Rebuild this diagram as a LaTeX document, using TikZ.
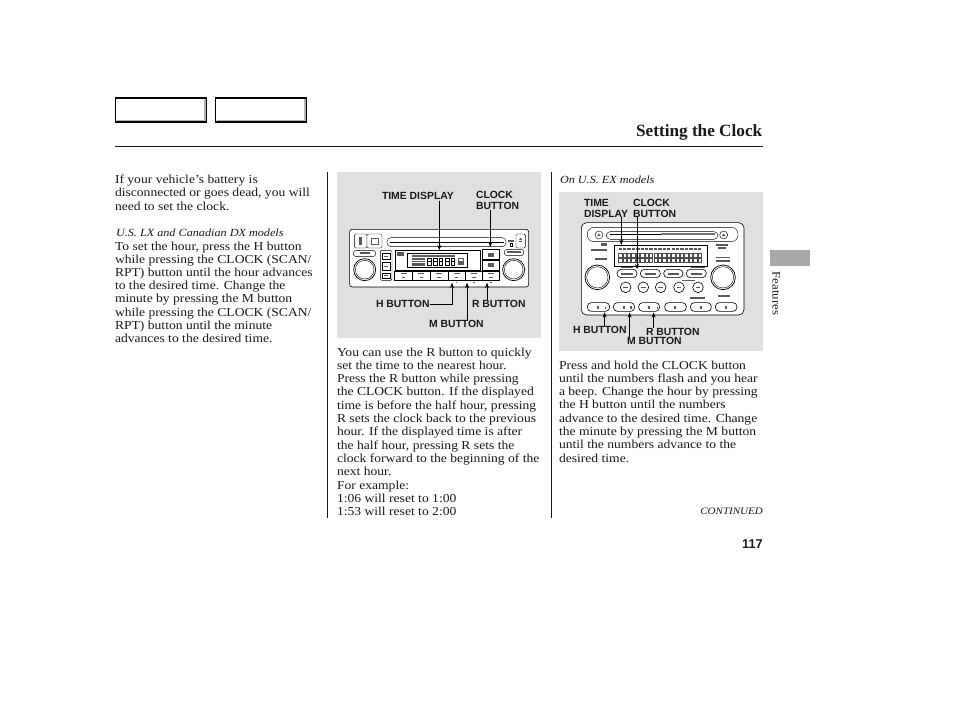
\documentclass[tikz,border=0pt]{standalone}
\usepackage{fontspec}
\usetikzlibrary{arrows.meta}
\newfontfamily\bodyf[FakeStretch=1.115]{Liberation Serif}
\newfontfamily\titlef{Liberation Serif}
\newfontfamily\labf{Liberation Sans}
\definecolor{panel}{HTML}{E0E0E0}
\definecolor{sidetab}{HTML}{A8A8A8}
\definecolor{ink}{HTML}{1A1A1A}
\tikzset{
  x=0.75pt,y=-0.75pt,
  txt/.style={anchor=base west,inner sep=0pt,outer sep=0pt,text=ink,font=\bodyf\fontsize{9.15pt}{11pt}\selectfont},
  itl/.style={txt,font=\bodyf\itshape\fontsize{8.2pt}{11pt}\selectfont},
  lab/.style={inner sep=0pt,outer sep=0pt,text=ink,align=left,font=\labf\bfseries\fontsize{7.8pt}{8.3pt}\selectfont},
  tabbox/.style={draw=black,line width=1.1pt,fill=white,minimum width=68pt,minimum height=18pt,anchor=north west,inner sep=0pt,outer sep=0pt},
  tabshade/.style={draw=black!30,line width=0.8pt},
  rule/.style={draw=ink,line width=0.6pt},
  ptr/.style={draw=black,line width=0.55pt,-{Stealth[length=4pt,width=3pt]}},
  dev/.style={draw=black,line width=0.45pt,fill=white},
  devthin/.style={draw=black,line width=0.3pt,fill=white},
  glyph/.style={fill=black!65,draw=none},
}
\newcommand{\tl}[4]{\node[txt] (#1) at (#2,#3) {#4};}
\begin{document}
\begin{tikzpicture}
\useasboundingbox (0,0) rectangle (954,710);
\fill[white] (0,0) rectangle (954,710);
% header
\node[tabbox] (taba) at (115.7,98) {};
\node[tabbox] (tabb) at (215.7,98) {};
\draw[tabshade] (116.5,120.6) -- (205,120.6) -- (205,99);
\draw[tabshade] (216.5,120.6) -- (305,120.6) -- (305,99);
\node[anchor=base east,inner sep=0pt,text=ink,font=\titlef\bfseries\fontsize{12.9pt}{15pt}\selectfont] (title) at (762.5,137) {Setting the Clock};
\draw[rule] (115,146.6) -- (763,146.6);
\draw[rule] (327.5,172) -- (327.5,518);
\draw[rule] (551.5,172) -- (551.5,518);
% side tab
\fill[sidetab] (770,250) rectangle (810,266);
\node[rotate=-90,anchor=base west,inner sep=0pt,text=ink,font=\bodyf\fontsize{8.6pt}{9pt}\selectfont] (side) at (772.5,271.5) {Features};
% left column
\tl{a1}{115}{183}{If your vehicle’s battery is}
\tl{a2}{115}{196.5}{disconnected or goes dead, you will}
\tl{a3}{115}{210}{need to set the clock.}
\node[itl] (a4) at (116,236) {U.S. LX and Canadian DX models};
\tl{b1}{115}{250}{To set the hour, press the H button}
\tl{b2}{115}{263}{while pressing the CLOCK (SCAN/}
\tl{b3}{115}{276.3}{RPT) button until the hour advances}
\tl{b4}{115}{289.6}{to the desired time. Change the}
\tl{b5}{115}{302.9}{minute by pressing the M button}
\tl{b6}{115}{316.2}{while pressing the CLOCK (SCAN/}
\tl{b7}{115}{329.5}{RPT) button until the minute}
\tl{b8}{115}{342.8}{advances to the desired time.}
% middle column
\tl{c1}{337}{356}{You can use the R button to quickly}
\tl{c2}{337}{369.3}{set the time to the nearest hour.}
\tl{c3}{337}{382.6}{Press the R button while pressing}
\tl{c4}{337}{395.9}{the CLOCK button. If the displayed}
\tl{c5}{337}{409.2}{time is before the half hour, pressing}
\tl{c6}{337}{422.5}{R sets the clock back to the previous}
\tl{c7}{337}{435.8}{hour. If the displayed time is after}
\tl{c8}{337}{449.1}{the half hour, pressing R sets the}
\tl{c9}{337}{462.4}{clock forward to the beginning of the}
\tl{c10}{337}{475.7}{next hour.}
\tl{c11}{337}{489}{For example:}
\tl{c12}{337}{502.3}{1:06 will reset to 1:00}
\tl{c13}{337}{515.6}{1:53 will reset to 2:00}
% right column
\node[itl] (d0) at (560,183) {On U.S. EX models};
\tl{d1}{559}{369}{Press and hold the CLOCK button}
\tl{d2}{559}{382.3}{until the numbers flash and you hear}
\tl{d3}{559}{395.6}{a beep. Change the hour by pressing}
\tl{d4}{559}{408.9}{the H button until the numbers}
\tl{d5}{559}{422.2}{advance to the desired time. Change}
\tl{d6}{559}{435.5}{the minute by pressing the M button}
\tl{d7}{559}{448.8}{until the numbers advance to the}
\tl{d8}{559}{462.1}{desired time.}
\node[anchor=base east,inner sep=0pt,text=ink,font=\bodyf\itshape\fontsize{7.4pt}{9pt}\selectfont] (cont) at (763,514.5) {CONTINUED};
\node[anchor=base east,inner sep=0pt,text=ink,font=\labf\bfseries\fontsize{9.6pt}{11pt}\selectfont] (page) at (763,548.5) {117};
% panels
\fill[panel] (337,172) rectangle (541,338);
\fill[panel] (559,192) rectangle (763,351);
% radio 1
\begin{scope}[shift={(337,172)},x=0.25pt,y=-0.25pt]
\draw[dev,rounded corners=2pt] (38,172) rectangle (575,345);
\draw[devthin,rounded corners=1pt] (52,186) rectangle (90,228);
\draw[devthin,rounded corners=1pt] (90,186) rectangle (135,228);
\fill[glyph] (66,195) rectangle (76,218);
\draw[glyph,fill=none,draw=black!65,line width=.4pt] (102,198) rectangle (124,216);
\draw[devthin,rounded corners=3pt] (150,197) rectangle (507,224);
\draw[draw=black,line width=.5pt] (158,212) -- (500,212);
\fill[glyph] (513,204) rectangle (530,210);
\draw[black,line width=.4pt] (520,215) rectangle (527,222);
\draw[devthin,rounded corners=1pt] (537,186) rectangle (565,228);
\fill[glyph] (546,204) -- (556,204) -- (551,197) -- cycle;
\fill[glyph] (546,207) rectangle (556,209);
\draw[devthin,rounded corners=1pt] (50,236) rectangle (115,253);
\fill[glyph] (68,241) rectangle (98,247);
\draw[dev,line width=.55pt] (83,293) circle (33);
\draw[devthin] (83,293) circle (28);
\draw[devthin,rounded corners=1pt] (130,235) rectangle (165,325);
\foreach \yy/\hh in {243/20,270/26,303/15}{
  \draw[devthin] (135,\yy) rectangle (160,\yy+\hh);
  \fill[glyph] (141,\yy+\hh/2-2.5) rectangle (154,\yy+\hh/2+2.5);}
\draw[devthin] (175,235) rectangle (430,295);
\fill[glyph] (181,240) rectangle (200,252);
\draw[devthin] (210,245) rectangle (390,287);
\fill[glyph] (225,250) rectangle (355,254);
\fill[glyph] (225,258) rectangle (265,282);
\fill[white] (225,263) rectangle (265,265);
\fill[white] (225,270) rectangle (265,272);
\foreach \xx in {272,290,306,325,342}{\draw[black,line width=.75pt] (\xx,258) rectangle (\xx+11,280);\draw[black,line width=.6pt] (\xx,269) -- (\xx+11,269);}
\fill[glyph] (362,258) rectangle (381,278);
\fill[white] (366,262) rectangle (377,266);
\draw[devthin] (437,233) rectangle (487,263);
\draw[devthin] (437,265) rectangle (487,295);
\fill[glyph] (453,242) rectangle (471,254);
\fill[glyph] (453,274) rectangle (471,286);
\draw[devthin,rounded corners=1pt] (503,233) rectangle (560,250);
\fill[glyph] (510,238) rectangle (553,244);
\draw[dev,line width=.55pt] (530,293) circle (33);
\draw[devthin] (530,293) circle (28);
\draw[dev] (172,298) rectangle (487,325);
\foreach \xx in {227,280,333,385,437}{\draw[black,line width=.4pt] (\xx,298) -- (\xx,325);}
\foreach \xx in {200,253,306,359,411,462}{\fill[glyph] (\xx-9,303) rectangle (\xx+9,307);\fill[glyph] (\xx-5,314) rectangle (\xx+5,318);}
\foreach \xx in {358,411,462}{\fill[glyph] (\xx-2,329) rectangle (\xx+2,333);}
\coordinate (t1a) at (307,235);
\coordinate (t1b) at (460,225);
\coordinate (t1c) at (345,332);
\coordinate (t1d) at (390,332);
\coordinate (t1e) at (450,332);
\end{scope}
\node[lab,anchor=west] (timea) at (382,195.5) {TIME DISPLAY};
\node[lab,anchor=north west] (clocka) at (476,191.5) {CLOCK\\BUTTON};
\node[lab,anchor=west] (ha) at (376,304) {H BUTTON};
\node[lab,anchor=west] (ra) at (472,304) {R BUTTON};
\node[lab,anchor=west] (ma) at (429,324) {M BUTTON};
\draw[ptr] (timea.south -| t1a) ++(0,1.5) -- (t1a);
\draw[ptr] (clocka.south -| t1b) -- (t1b);
\draw[ptr] (ha.east) -| (t1c);
\draw[ptr] (ma.north -| t1d) -- (t1d);
\draw[ptr] (ra.north -| t1e) -- (t1e);
% radio 2
\begin{scope}[shift={(558,190)},x=0.25pt,y=-0.25pt]
\draw[dev,rounded corners=4pt] (70,98) rectangle (558,375);
\draw[devthin,rounded corners=5pt] (88,112) rectangle (540,155);
\draw[devthin] (123,135) circle (12);
\fill[glyph] (118,138) -- (128,138) -- (123,130) -- cycle;
\draw[devthin] (497,135) circle (12);
\fill[glyph] (492,138) -- (502,138) -- (497,130) -- cycle;
\draw[devthin,rounded corners=3pt] (145,125) rectangle (480,148);
\fill[black!55] (310,130) rectangle (470,134);
\draw[black,line width=.3pt] (155,132) -- (310,132);
\fill[glyph] (130,160) rectangle (148,168);
\fill[glyph] (100,176) rectangle (148,183);
\fill[glyph] (112,205) rectangle (148,211);
\fill[glyph] (475,162) rectangle (510,168);
\fill[glyph] (480,172) rectangle (505,177);
\fill[glyph] (473,200) rectangle (515,205);
\fill[glyph] (473,211) rectangle (515,216);
\draw[devthin] (168,165) rectangle (447,230);
\foreach \xx in {187,200,213,226,240,253,266,279,293,306,319,332,346,359,372,385,399,412,425}{
  \fill[glyph] (\xx-5,173) rectangle (\xx+5,180);
  \draw[black!70,line width=.6pt] (\xx-5,190) rectangle (\xx+5,202);
  \draw[black!70,line width=.6pt] (\xx-5,205) rectangle (\xx+5,218);
}
\draw[dev,line width=.55pt] (118,262) circle (37);
\draw[devthin] (118,262) circle (32);
\draw[dev,line width=.55pt] (495,262) circle (37);
\draw[devthin] (495,262) circle (32);
\fill[glyph] (190,231) rectangle (225,235);
\fill[glyph] (400,231) rectangle (440,235);
\foreach \xa/\xb in {177/237,247/307,317/375,385/445}{
  \draw[dev,rounded corners=3pt] (\xa,238) rectangle (\xb,263);
  \fill[glyph] (\xa+13,248) rectangle (\xb-13,254);}
\foreach \xx in {203,256,308,363,420}{
  \draw[dev] (\xx,292) circle (16);
  \fill[glyph] (\xx-7,290) rectangle (\xx+7,294);}
\fill[glyph] (372,270) rectangle (410,274);
\fill[glyph] (395,322) rectangle (440,326);
\fill[glyph] (480,316) rectangle (515,320);
\foreach \xa/\xb in {88/155,166/230,242/305,320/385,397/460,472/537}{
  \draw[dev,rounded corners=3pt] (\xa,338) rectangle (\xb,364);
  \fill[glyph] ({(\xa+\xb)/2-4},347) rectangle ({(\xa+\xb)/2+2},356);}
\fill[glyph] (215,349) rectangle (221,356);
\fill[glyph] (140,352) rectangle (144,356);
\fill[glyph] (296,352) rectangle (300,356);
\coordinate (t2a) at (190,165);
\coordinate (t2b) at (237,238);
\coordinate (t2c) at (140,367);
\coordinate (t2d) at (215,367);
\coordinate (t2e) at (287,367);
\end{scope}
\node[lab,anchor=north west] (timeb) at (584,199) {TIME\\DISPLAY};
\node[lab,anchor=north west] (clockb) at (633,199) {CLOCK\\BUTTON};
\node[lab,anchor=west] (hb) at (573,330) {H BUTTON};
\node[lab,anchor=west] (rb) at (646,331.5) {R BUTTON};
\node[lab,anchor=west] (mb) at (627,341) {M BUTTON};
\draw[ptr] (timeb.south -| t2a) -- (t2a);
\draw[ptr] (clockb.south -| t2b) -- (t2b);
\draw[ptr] (hb.north -| t2c) -- (t2c);
\draw[ptr] (mb.north -| t2d) -- (t2d);
\draw[ptr] (rb.north -| t2e) -- (t2e);
\end{tikzpicture}
\end{document}
